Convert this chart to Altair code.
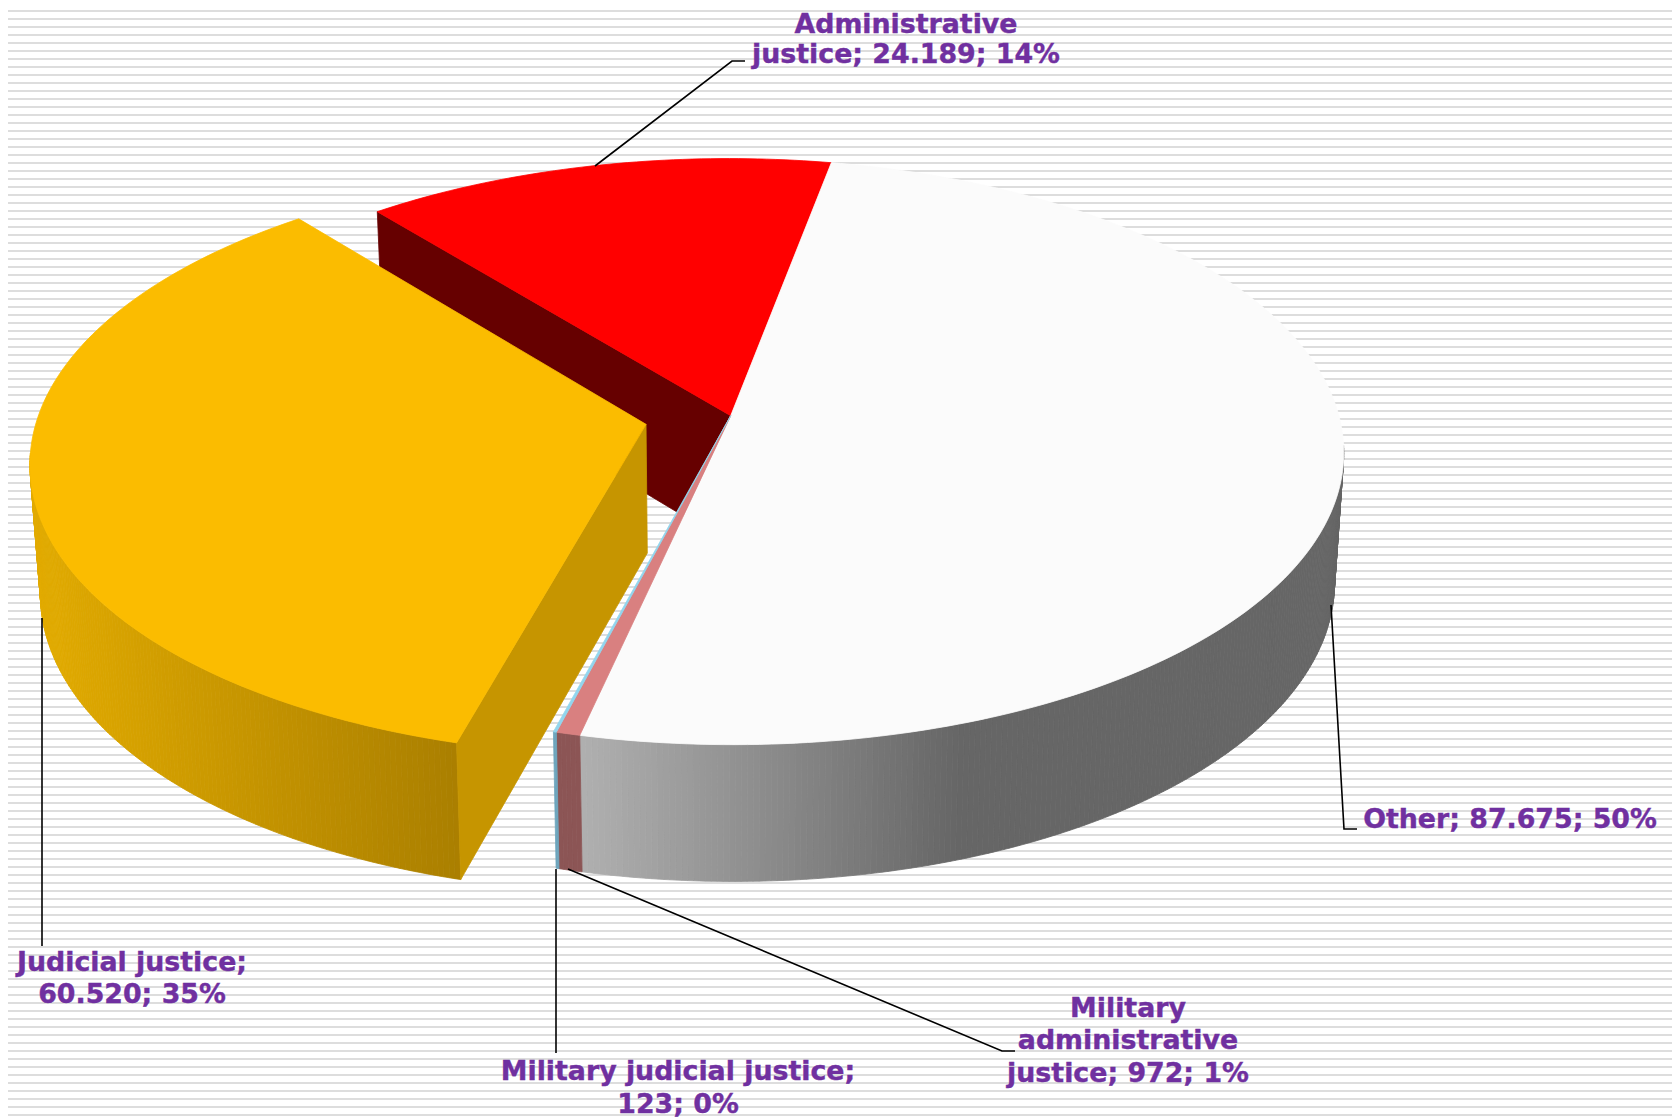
import math
import altair as alt
import pandas as pd

categories = ["Other", "Military administrative justice", "Military judicial justice", "Judicial justice", "Administrative justice"]
values = [87675, 972, 123, 60520, 24189]
explode = [0.0, 0.0, 0.0, 0.142, 0.0]
top_colors = ["#FBFBFB", "#D98080", "#92D5EE", "#FBBC00", "#FF0000"]
face_colors = ["#666666", "#8C5555", "#6DA5BD", "#C69500", "#660000"]
label_lines = [
    ["Other; 87.675; 50%"],
    ["Military", "administrative", "justice; 972; 1%"],
    ["Military judicial justice;", "123; 0%"],
    ["Judicial justice;", "60.520; 35%"],
    ["Administrative", "justice; 24.189; 14%"],
]
label_x = [1510, 1128, 678, 132, 906]
label_y = [[820], [1009, 1041, 1074], [1072, 1105], [963, 995], [25, 55]]
leaders = [
    [(1331, 605), (1344, 829), (1357, 829)],
    [(568, 869), (1002, 1051), (1015, 1051)],
    [(556, 869), (556, 1053)],
    [(42, 618), (42, 946)],
    [(595, 166), (732, 61), (745, 61)],
]

S = 1680 / 1568
AX, AY = 682 * S, 388 * S
A, B, K = 567.6 * S, 269.4 * S, 0.1225
SHEAR = 0.008
BOT_X, BOT_Y, BOT_DY = 0.985, 1.025, 120 * S
START = 10.9
W, H = 1664, 1112


def project(u, v, bottom=False):
    p = 1 / (1 - K * v)
    dy = B * v * p
    if bottom:
        return AX + BOT_X * A * u * p + SHEAR * dy, AY + BOT_DY + BOT_Y * dy
    return AX + A * u * p + SHEAR * dy, AY + dy


def rim(clock, off):
    a = math.radians(clock)
    return off[0] + math.sin(a), off[1] - math.cos(a)


rows = []
pid = [0]


def poly(points, color):
    pid[0] += 1
    for i, (x, y) in enumerate(points):
        rows.append({"poly": f"p{pid[0]:04d}", "i": i, "x": x, "y": y, "c": color})


def lerp_hex(stops, t):
    t = max(0.0, min(1.0, t))
    n = len(stops) - 1
    k = min(int(t * n), n - 1)
    f = t * n - k
    a, b = stops[k], stops[k + 1]
    return "#" + "".join(f"{round(a[j] + (b[j] - a[j]) * f):02X}" for j in range(3))


GREY = [(176, 176, 176), (102, 102, 102)]
GOLD = [(226, 171, 0), (198, 149, 0), (170, 127, 0)]
total = sum(values)
spans = []
c = START
for v in values:
    d = v / total * 360
    spans.append((c, c + d))
    c += d


def offset(i):
    s, e = spans[i]
    a = math.radians((s + e) / 2)
    return explode[i] * math.sin(a), -explode[i] * math.cos(a)


def arc_pts(i, step=1.0):
    s, e = spans[i]
    n = max(2, int((e - s) / step) + 1)
    return [s + (e - s) * j / n for j in range(n + 1)]


def wall(i, shade):
    off = offset(i)
    cl = arc_pts(i, 0.5)
    for a, b in zip(cl[:-1], cl[1:]):
        ua, va = rim(a, off)
        ub, vb = rim(b, off)
        if -math.cos(math.radians(a)) < 0.1:
            continue
        q = [project(ua, va), project(ub, vb), project(ub, vb, True), project(ua, va, True)]
        poly(q, shade((q[0][0] + q[1][0]) / 2))


def top(i):
    off = offset(i)
    pts = [project(*off)] + [project(*rim(a, off)) for a in arc_pts(i)]
    poly(pts, top_colors[i])


def face(i, clock):
    off = offset(i)
    u, v = rim(clock, off)
    poly([project(*off), project(u, v), project(u, v, True), project(*off, True)], face_colors[i])


# painter's order, back to front
face(4, spans[4][0])
top(4)
wall(0, lambda x: lerp_hex(GREY, (x - 580) / (960 - 580)))
top(0)
wall(1, lambda x: face_colors[1])
top(1)
wall(2, lambda x: face_colors[2])
top(2)
wall(3, lambda x: lerp_hex(GOLD, (x - 30) / (458 - 30)))
face(3, spans[3][0])
top(3)

df = pd.DataFrame(rows)

xs = alt.Scale(domain=[8, 8 + W], range=[0, W], nice=False, zero=False)
ys = alt.Scale(domain=[8, 8 + H], range=[0, H], nice=False, zero=False)
X = lambda f: alt.X(f, type="quantitative", scale=xs, axis=None)
Y = lambda f: alt.Y(f, type="quantitative", scale=ys, axis=None)

stripes = pd.DataFrame({"y": [3 + 8 * k for k in range(1, 140)]})
stripe_layer = alt.Chart(stripes).mark_rule(stroke="#DDDDDD", strokeWidth=2).encode(
    y=Y("y"), x=alt.value(0), x2=alt.value(W)
)

pie = alt.Chart(df).mark_line(strokeWidth=0.8, interpolate="linear-closed").encode(
    x=X("x"), y=Y("y"), order=alt.Order("i:Q"), detail="poly:N",
    fill=alt.Fill("c:N", scale=None), stroke=alt.Stroke("c:N", scale=None),
)

lead_rows = []
for n, (cat, pts) in enumerate(zip(categories, leaders)):
    for i, (x, y) in enumerate(pts):
        lead_rows.append({"cat": cat, "i": i, "x": x, "y": y})
lead = alt.Chart(pd.DataFrame(lead_rows)).mark_line(stroke="#000000", strokeWidth=1.6).encode(
    x=X("x"), y=Y("y"), order=alt.Order("i:Q"), detail="cat:N"
)

text_rows = []
for lines, x, ylist in zip(label_lines, label_x, label_y):
    for line, y in zip(lines, ylist):
        text_rows.append({"t": line, "x": x, "y": y})
labels = alt.Chart(pd.DataFrame(text_rows)).mark_text(
    font="DejaVu Sans", fontWeight="bold", fontSize=26.8, color="#7030A0",
    stroke="#7030A0", strokeWidth=0.4, align="center", baseline="middle"
).encode(x=X("x"), y=Y("y"), text="t:N")

chart = alt.layer(stripe_layer, pie, lead, labels).properties(
    width=W, height=H, padding=0, autosize=alt.AutoSizeParams(type="none"), background="#FFFFFF"
).configure_view(stroke=None)

chart.save("out.html", embed_options={"renderer": "svg", "actions": False})
